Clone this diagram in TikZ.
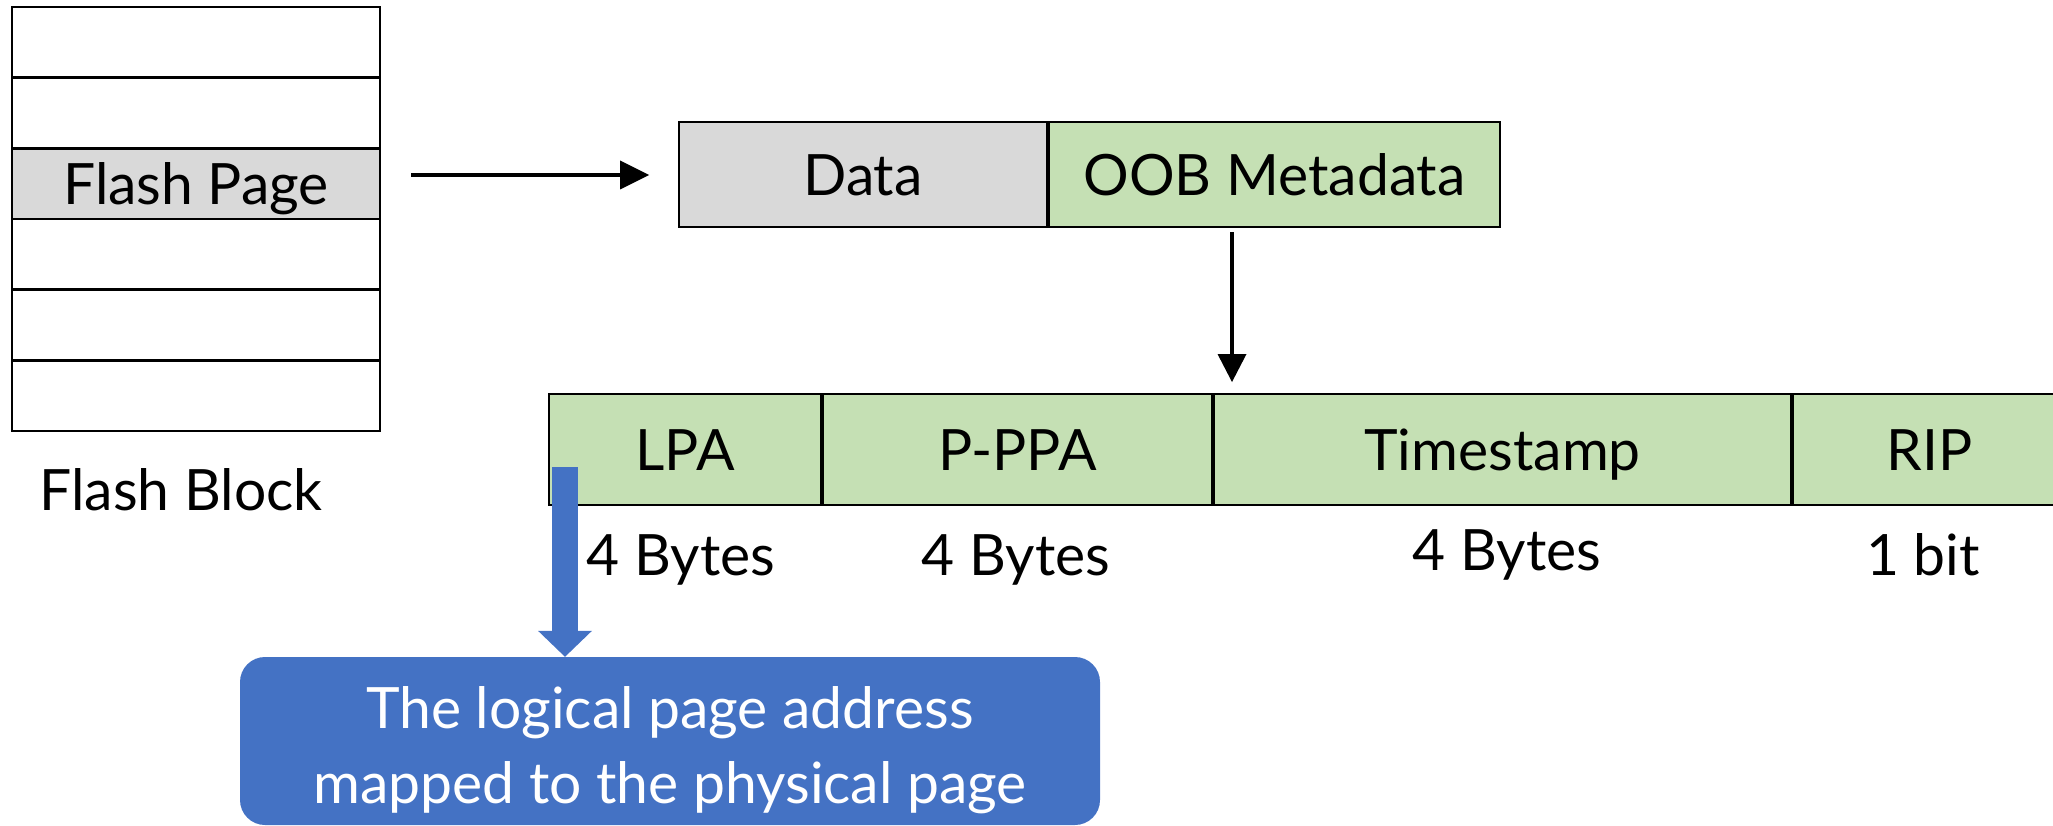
\documentclass[tikz,border=0pt]{standalone}
\usepackage{fontspec}
\setmainfont{Lato}
\definecolor{pagegray}{HTML}{D9D9D9}
\definecolor{oobgreen}{HTML}{C5E0B4}
\definecolor{noteblue}{HTML}{4472C4}

\begin{document}
\begin{tikzpicture}[x=1pt,y=-1pt]
    \tikzstyle{every node}+=[inner sep=0pt, font=\fontsize{57}{75}\selectfont]
    \tikzstyle{pagerow}=[draw=black, line width=2.5pt, minimum width=368pt, minimum height=70.67pt]
    \tikzstyle{field}=[draw=black, line width=2pt, fill=oobgreen, text height=41pt, text depth=0pt]
    \tikzstyle{arrline}=[black, line width=4pt]
    \clip (0,0) rectangle (2053,826);
    % flash block
    \foreach \i in {0,1,3,4,5}
        \node [pagerow] (row\i) at (196,42.33+70.67*\i) {};
    \node [pagerow, fill=pagegray, text height=41pt, text depth=0pt] (page) at (196,183.67) {Flash Page};
    \node [anchor=base] (blocklabel) at (181,510) {Flash Block};
    % page layout
    \node [field, fill=pagegray, minimum width=368pt, minimum height=105pt] (data) at (863,175) {Data};
    \node [field, anchor=west, minimum width=451pt, minimum height=105pt] (oob) at (data.east) {OOB Metadata};
    \draw [arrline] ([xshift=30pt]page.east |- data.west) -- ([xshift=-58pt]data.west);
    \fill [black] ([xshift=-29pt]data.west) -- ++(-29,-14.5) -- ++(0,29) -- cycle;
    % oob fields
    \node [field, minimum width=272pt, minimum height=111pt] (lpa) at (685,449.5) {LPA};
    \node [field, anchor=west, minimum width=389pt, minimum height=111pt] (ppa) at (lpa.east) {P-PPA};
    \node [field, anchor=west, minimum width=577pt, minimum height=111pt] (tstamp) at (ppa.east) {Timestamp};
    \node [field, anchor=west, minimum width=273pt, minimum height=111pt] (rip) at (tstamp.east) {RIP};
    \draw [arrline] ([xshift=-42.5pt,yshift=-4pt]oob.south) -- ([xshift=-42.5pt,yshift=39pt]oob.south |- tstamp.north);
    \fill [black] ([xshift=-42.5pt,yshift=11pt]oob.south |- tstamp.north) -- ++(-14.5,-28) -- ++(29,0) -- cycle;
    \node [anchor=base] (lpasize) at (681,575) {4 Bytes};
    \node [anchor=base] (ppasize) at (1016,575) {4 Bytes};
    \node [anchor=base] (tssize) at (1507,570) {4 Bytes};
    \node [anchor=base] (ripsize) at (1923,575) {1 bit};
    % note on LPA
    \node [fill=noteblue, rounded corners=25pt, minimum width=860pt, minimum height=168pt] (note) at (670,741) {};
    \node [text=white, align=center] (notetext) at (670,750) {The logical page address\\mapped to the physical page};
    \coordinate (lpatap) at ([xshift=17pt,yshift=39pt]lpa.south west);
    \draw [noteblue, line width=26pt, shorten >=26pt] (lpatap) -- (lpatap |- note.north);
    \fill [noteblue] (lpatap |- note.north) -- ++(-27,-26) -- ++(54,0) -- cycle;
\end{tikzpicture}
\end{document}
